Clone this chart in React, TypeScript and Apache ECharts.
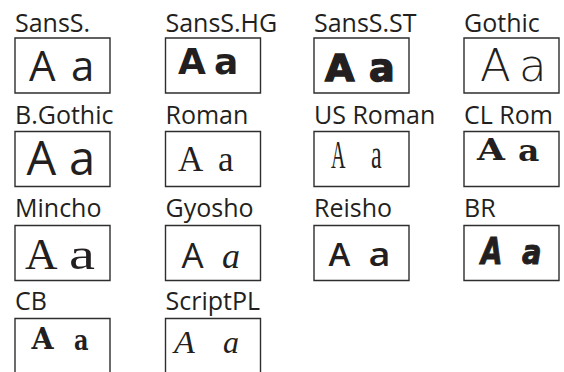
import React, { useEffect, useRef } from "react";
import * as echarts from "echarts";

// ---- data ----
const labels = ["SansS.", "SansS.HG", "SansS.ST", "Gothic", "B.Gothic", "Roman", "US Roman", "CL Rom", "Mincho", "Gyosho", "Reisho", "BR", "CB", "ScriptPL"];
const upperSample = "A";
const lowerSample = "a";

// ---- layout ----
const colLeft = [15, 165.5, 314, 464];
const rowTop = [38, 131.5, 225.5, 318.5];
const labelBase = [31.6, 123.4, 216.7, 310];
const boxW = 95;
const boxH = 55;
const INK = "#231f20";

const OPEN = "'Open Sans', sans-serif";
const DVS = "'DejaVu Sans', sans-serif";
const DVSERIF = "'DejaVu Serif', serif";
const LSERIF = "'Liberation Serif', serif";
const K: Record<string, number> = { [OPEN]: 0.388, [DVS]: 0.346, [DVSERIF]: 0.346, [LSERIF]: 0.337 };

type G = { fam: string; fs: number; w?: string | number; it?: boolean; sx?: number; stroke?: number; x: number };
type Cell = { base: number; A: G; a: G };

const cells: Cell[] = [
  { base: 81, A: { fam: OPEN, fs: 42, w: 500, x: 29 }, a: { fam: OPEN, fs: 42, w: 500, x: 71 } },
  { base: 74, A: { fam: DVS, fs: 36, w: "bold", x: 178 }, a: { fam: DVS, fs: 36, w: "bold", x: 214 } },
  { base: 81, A: { fam: DVS, fs: 38, w: "bold", stroke: 1.5, x: 325 }, a: { fam: DVS, fs: 38, w: "bold", stroke: 1.5, x: 369 } },
  { base: 81, A: { fam: DVS, fs: 45, w: 200, x: 480 }, a: { fam: DVS, fs: 45, w: 200, x: 519 } },
  { base: 175.7, A: { fam: OPEN, fs: 47, w: 500, x: 26.5 }, a: { fam: OPEN, fs: 47, w: 500, x: 69 } },
  { base: 171.7, A: { fam: LSERIF, fs: 35, x: 178 }, a: { fam: LSERIF, fs: 35, x: 218 } },
  { base: 168.3, A: { fam: LSERIF, fs: 40, sx: 0.5, x: 331 }, a: { fam: LSERIF, fs: 40, sx: 0.6, x: 371 } },
  { base: 160, A: { fam: DVSERIF, fs: 30, w: "bold", sx: 1.2, x: 477 }, a: { fam: DVSERIF, fs: 30, w: "bold", sx: 1.1, x: 518 } },
  { base: 269.3, A: { fam: LSERIF, fs: 45, x: 25 }, a: { fam: LSERIF, fs: 45, sx: 1.3, x: 69 } },
  { base: 267.7, A: { fam: OPEN, fs: 35, x: 181.5 }, a: { fam: LSERIF, fs: 36, it: true, x: 222 } },
  { base: 266, A: { fam: OPEN, fs: 33, w: 600, x: 328.5 }, a: { fam: OPEN, fs: 33, w: 600, sx: 1.15, x: 368.5 } },
  { base: 264.3, A: { fam: DVS, fs: 37, w: "bold", it: true, sx: 0.75, stroke: 1, x: 481 }, a: { fam: DVS, fs: 34, w: "bold", it: true, sx: 0.85, stroke: 1, x: 522 } },
  { base: 349.3, A: { fam: DVSERIF, fs: 30, w: "bold", sx: 0.95, x: 31.5 }, a: { fam: DVSERIF, fs: 28, w: "bold", sx: 0.8, x: 74 } },
  { base: 352.7, A: { fam: LSERIF, fs: 31, it: true, sx: 1.1, x: 174 }, a: { fam: LSERIF, fs: 32, it: true, x: 223 } },
];

function glyph(text: string, g: G, base: number) {
  const k = K[g.fam] ?? 0.35;
  return {
    type: "text",
    x: g.x,
    y: base - k * g.fs,
    scaleX: g.sx ?? 1,
    silent: true,
    style: {
      text,
      fontFamily: g.fam,
      fontSize: g.fs,
      fontWeight: g.w ?? "normal",
      fontStyle: g.it ? "italic" : "normal",
      fill: INK,
      stroke: g.stroke ? INK : undefined,
      lineWidth: g.stroke ?? 0,
      align: "left",
      verticalAlign: "middle",
    },
  };
}

export default function App() {
  const ref = useRef<HTMLDivElement>(null);
  useEffect(() => {
    if (!ref.current) return;
    const chart = echarts.init(ref.current, undefined, { renderer: "svg" });
    const elements: any[] = [];
    labels.forEach((label, i) => {
      const r = Math.floor(i / 4);
      const c = i % 4;
      const left = colLeft[c];
      const top = rowTop[r];
      elements.push({
        type: "text",
        x: left,
        y: labelBase[r] - 0.388 * 25,
        silent: true,
        style: { text: label, fontFamily: OPEN, fontSize: 25, fill: INK, align: "left", verticalAlign: "middle" },
      });
      elements.push({
        type: "rect",
        silent: true,
        shape: { x: left, y: top, width: boxW, height: boxH },
        style: { fill: "none", stroke: "#2e2e2e", lineWidth: 1.4 },
      });
      const cell = cells[i];
      elements.push(glyph(upperSample, cell.A, cell.base));
      elements.push(glyph(lowerSample, cell.a, cell.base));
    });
    chart.setOption({
      animation: false,
      backgroundColor: "#ffffff",
      graphic: { elements },
    });
    return () => chart.dispose();
  }, []);
  return <div ref={ref} style={{ position: "absolute", left: 0, top: 0, width: 564, height: 372 }} />;
}
